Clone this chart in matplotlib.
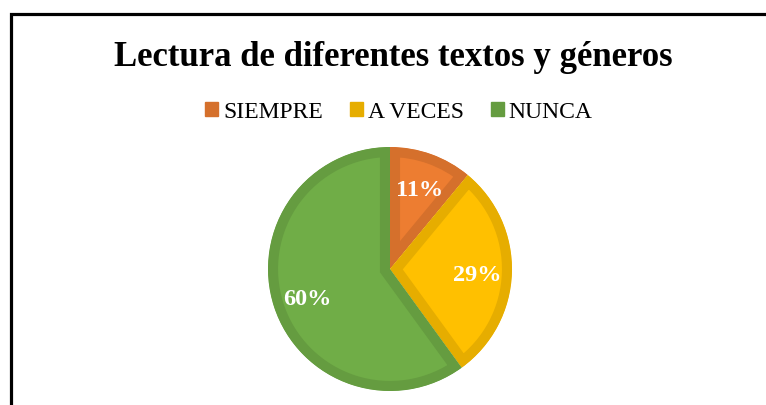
import matplotlib
matplotlib.use("Agg")
import matplotlib.pyplot as plt
from matplotlib.patches import Rectangle, Patch

# datos
categorias = ["SIEMPRE", "A VECES", "NUNCA"]
valores = [11, 29, 60]
colores = ["#ED7D31", "#FFC000", "#70AD47"]
bordes = ["#D5702C", "#E6AD00", "#659C40"]
titulo = "Lectura de diferentes textos y géneros"

W, H = 766, 405
fig = plt.figure(figsize=(W / 100, H / 100), dpi=100)
fig.patch.set_facecolor("white")

# marco negro del gráfico (recortado a la derecha y abajo)
marco = Rectangle((10.5 / W, -0.1), 1.2, 1 - 13.5 / H + 0.1,
                  transform=fig.transFigure, fill=False,
                  edgecolor="black", linewidth=2.3)
fig.patches.append(marco)

# ejes cuadrados centrados en el pastel (1 unidad = 100 px)
cx, cy = 390, 269
ax = fig.add_axes([(cx - 150) / W, (H - cy - 150) / H, 300 / W, 300 / H])

wedges, textos, autotextos = ax.pie(
    valores, colors=colores, startangle=90, counterclock=False,
    radius=1.22, autopct="%1.0f%%", pctdistance=0.715,
    wedgeprops=dict(linewidth=14.5),
    textprops=dict(color="white", fontsize=17.5, fontweight="bold",
                   family="Liberation Serif"))
ax.set_xlim(-1.5, 1.5)
ax.set_ylim(-1.5, 1.5)
ax.axis("off")
# borde por dentro de cada sector, como en Excel
for w, b in zip(wedges, bordes):
    w.set_edgecolor(b)
    w.set_clip_on(True)
    w.set_clip_path(w.get_path(), w.get_transform())
for t in autotextos:
    x, y = t.get_position()
    t.set_position((x, y - 0.04))

fig.text(393 / W, 1 - 57 / H, titulo, ha="center", va="center",
         fontsize=25, fontweight="bold", family="Liberation Serif")

handles = [Patch(facecolor=c, edgecolor=c) for c in bordes]
fig.legend(handles, categorias, loc="center", bbox_to_anchor=(399 / W, 1 - 112 / H),
           ncol=3, frameon=False, handlelength=0.55, handleheight=0.55,
           handletextpad=0.2, columnspacing=1.15,
           prop=dict(family="Liberation Serif", size=17))

fig.savefig("out.png", dpi=100)
